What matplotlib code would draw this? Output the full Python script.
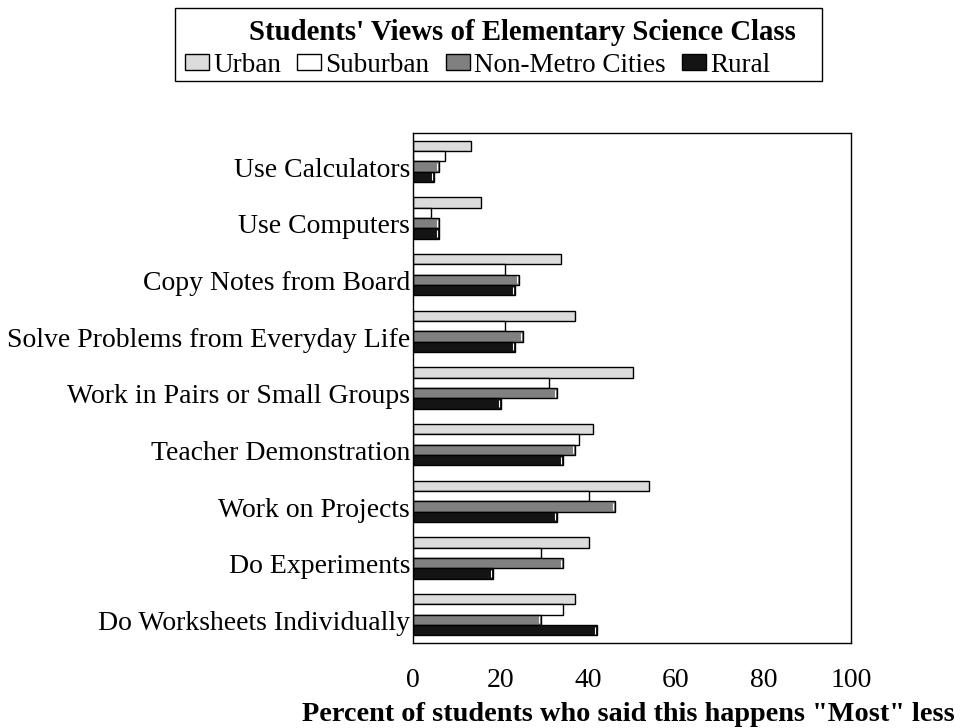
import numpy as np
import matplotlib
matplotlib.use("Agg")
import matplotlib.pyplot as plt
from matplotlib.patches import Rectangle

plt.rcParams['font.family'] = ['Liberation Serif', 'DejaVu Serif']

categories = ["Use Calculators", "Use Computers", "Copy Notes from Board",
              "Solve Problems from Everyday Life", "Work in Pairs or Small Groups",
              "Teacher Demonstration", "Work on Projects", "Do Experiments",
              "Do Worksheets Individually"]
urban = [13.2, 15.5, 33.8, 37.0, 50.2, 41.1, 53.9, 40.2, 37.0]
suburban = [7.3, 4.0, 21.0, 21.0, 31.1, 37.9, 40.2, 29.2, 34.2]
non_metro = [5.9, 5.9, 24.2, 25.1, 32.9, 37.0, 46.1, 34.2, 29.2]
rural = [4.8, 5.9, 23.3, 23.3, 20.1, 34.2, 32.9, 18.3, 42.0]
series_names = ["Urban", "Suburban", "Non-Metro Cities", "Rural"]
xticks = [0, 20, 40, 60, 80, 100]

colors = ["#dcdcdc", "#ffffff", "#808080", "#141414"]

fig = plt.figure(figsize=(9.69, 7.28), dpi=100)
ax = fig.add_axes([413/969, 85/728, 438/969, 510/728])

y = np.arange(len(categories))
h = 0.182
handles = []
for k, (vals, name, c) in enumerate(zip([urban, suburban, non_metro, rural], series_names, colors)):
    yy = y + (k - 1.5)*h
    b = ax.barh(yy, vals, height=h, color=c, edgecolor="black",
                linewidth=1.0, label=name)
    handles.append(b)
    if k >= 2:
        # little white highlight just inside the bar end
        ax.vlines(np.array(vals) - 0.45, yy - h/2 + 0.03, yy + h/2 - 0.03,
                  color="white", linewidth=0.8)

ax.set_xlim(0, 100)
ax.set_ylim(len(categories) - 0.5, -0.5)
ax.set_xticks(xticks)
ax.set_xticklabels([str(t) for t in xticks], fontsize=20)
ax.tick_params(axis="x", length=0, pad=18)
ax.set_yticks(y + 0.273)
ax.set_yticklabels(categories, fontsize=20, va="baseline")
ax.tick_params(axis="y", length=0, pad=2)
for s in ax.spines.values():
    s.set_linewidth(1.0)

# legend box with title
fig.add_artist(Rectangle((175/969, 1 - 81/728), (822 - 175)/969, 73/728,
                         transform=fig.transFigure, fill=False,
                         edgecolor="black", linewidth=1.0))
fig.text(522/969, 1 - 40/728, "Students' Views of Elementary Science Class",
         ha="center", va="baseline", fontsize=20.7, fontweight="bold")
fig.legend(handles=handles, loc="center left", bbox_to_anchor=(185/969, 1 - 65/728),
           ncol=4, frameon=False, fontsize=19.5, handlelength=0.89, handleheight=0.52,
           handletextpad=0.15, columnspacing=0.6, borderpad=0, borderaxespad=0)

fig.text(302/969, 1 - 721/728, 'Percent of students who said this happens "Most" less',
         ha="left", va="baseline", fontsize=20.3, fontweight="bold")

fig.savefig("out.png", dpi=100)
